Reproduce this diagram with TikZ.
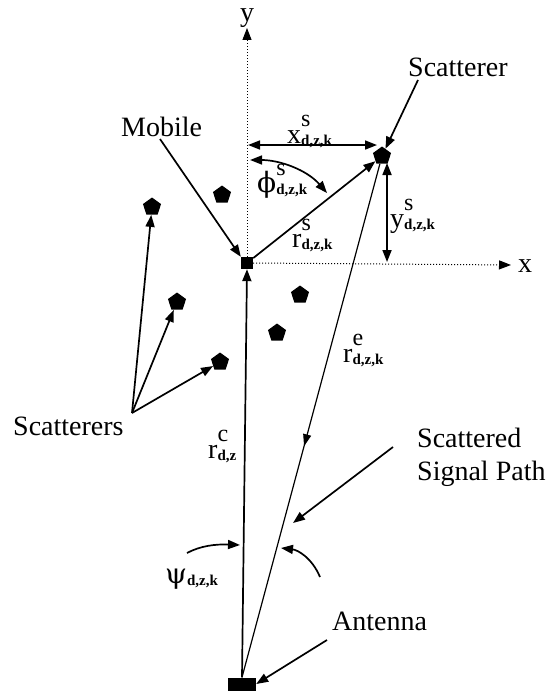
\documentclass[tikz,border=0pt]{standalone}
\usepackage{fontspec}
\setmainfont{Liberation Serif}
\newfontfamily\greekf{DejaVu Serif}
\usetikzlibrary{arrows.meta,shapes.geometric,decorations.markings}
\newcommand\lab[3]{#1\rlap{\raisebox{0.6em}{\fontsize{24}{24}\selectfont #2}}\raisebox{-0.08em}{\fontsize{15}{15}\selectfont\bfseries #3}}
\begin{document}
\begin{tikzpicture}[x=1pt,y=-1pt,
  txt/.style={font=\fontsize{28}{30}\selectfont, inner sep=0pt},
  arr/.style={line width=1.7pt, -{Triangle[length=12pt,width=9pt]}},
  darr/.style={line width=1.7pt, {Triangle[length=12pt,width=9pt]}-{Triangle[length=12pt,width=9pt]}},
  pent/.style={regular polygon, regular polygon sides=5, fill=black, minimum size=19pt, inner sep=0pt},
  axisline/.style={dotted, line width=1pt, -{Triangle[length=12pt,width=9pt]}}]
\useasboundingbox (0,0) rectangle (550,693);
% nodes
\node[fill=black, minimum size=12pt, inner sep=0pt] (mob) at (247,263) {};
\node[pent] (sc) at (382,156) {};
\node[fill=black, minimum width=28pt, minimum height=13pt, inner sep=0pt] (ant) at (242,684) {};
\node[pent] (p1) at (152,207) {};
\node[pent] (p2) at (177,302) {};
\node[pent] (p3) at (220,362) {};
\node[pent] (p4) at (222,195) {};
\node[pent] (p5) at (300,295) {};
\node[pent] (p6) at (277,333) {};
% text labels
\node[txt, anchor=base west] (ly) at (240,22) {y};
\node[txt, anchor=base west] (lx) at (518,272) {x};
\node[txt, anchor=base west] (lmob) at (121,136) {Mobile};
\node[txt, anchor=base west] (lsc) at (408,77) {Scatterer};
\node[txt, anchor=base west] (lscs) at (13,435) {Scatterers};
\node[txt, anchor=base west] (lant) at (332,630) {Antenna};
\node[font=\fontsize{28}{33}\selectfont, inner sep=0pt, align=left, anchor=north west] (lsp) at (417,428) {Scattered\\Signal Path};
\node[txt, anchor=base west] (lxs) at (287,143) {\lab{x}{s}{d,z,k}};
\node[txt, anchor=base west] (lphi) at (257,192) {\lab{{\greekf ϕ}}{s}{d,z,k}};
\node[txt, anchor=base west] (lrs) at (292,247) {\lab{r}{s}{d,z,k}};
\node[txt, anchor=base west] (lys) at (390,227) {\lab{y}{s}{d,z,k}};
\node[txt, anchor=base west] (lre) at (343,362) {\lab{r}{e}{d,z,k}};
\node[txt, anchor=base west] (lrc) at (208,458) {\lab{r}{c}{d,z}};
\node[txt, anchor=base west] (lpsi) at (165,583) {{\greekf ψ}\raisebox{-0.08em}{\fontsize{15}{15}\selectfont\bfseries d,z,k}};
% coordinates
\coordinate (ytip) at (247,28);
\coordinate (xtip) at (511,265);
\coordinate (xs1) at (248,145);
\coordinate (xs2) at (377,145);
\coordinate (ys1) at (387,163);
\coordinate (ys2) at (387,262);
\coordinate (ph1) at (250,160);
\coordinate (ph2) at (327,193);
\coordinate (mobs) at (160,139);
\coordinate (scs) at (418,80);
\coordinate (ss) at (132,413);
\coordinate (sps) at (393,447);
\coordinate (spe) at (293,523);
\coordinate (ra1) at (320,577);
\coordinate (ra2) at (281,548);
\coordinate (ps1) at (187,553);
\coordinate (ps2) at (240,545);
\coordinate (ans) at (327,640);
% axes
\draw[axisline] (mob.north) -- (ytip);
\draw[axisline] (mob.east) -- (xtip);
% dimension arrows
\draw[darr] (xs1) -- (xs2);
\draw[darr] (ys1) -- (ys2);
\draw[darr] (ph1) .. controls (280,160) and (307,170) .. (ph2);
% vectors
\draw[arr] (mob) -- (sc);
\draw[arr] (ant.north) -- (mob.south);
\draw[line width=1.2pt, postaction={decorate},
  decoration={markings, mark=at position 0.55 with {\arrow{Triangle[length=12pt,width=8pt]}}}]
  (sc) -- (ant.north);
% pointers
\draw[arr] (mobs) -- (mob.north west);
\draw[arr] (scs) -- (sc);
\draw[arr] (ss) -- (p1);
\draw[arr] (ss) -- (p2);
\draw[arr] (ss) -- (p3);
\draw[arr] (sps) -- (spe);
\draw[arr] (ra1) .. controls (312,558) and (298,550) .. (ra2);
\draw[arr] (ps1) .. controls (200,546) and (215,544) .. (ps2);
\draw[arr] (ans) -- (ant.east);
\end{tikzpicture}
\end{document}
